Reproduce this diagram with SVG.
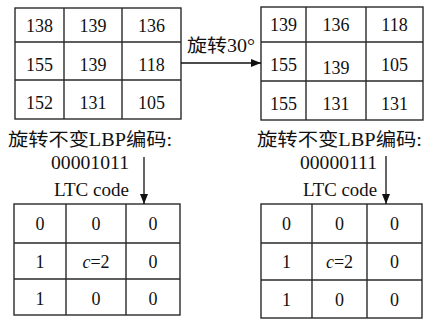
<svg xmlns="http://www.w3.org/2000/svg" width="427" height="320" viewBox="0 0 427 320" font-family="'Liberation Serif','Noto Sans CJK SC',serif">
<defs>
<marker id="ah" markerWidth="10" markerHeight="8" refX="10" refY="4" orient="auto" markerUnits="userSpaceOnUse">
<path d="M0,0 L10,4 L0,8 Z" fill="#111"/>
</marker>
<style>
.g{fill:#fff;stroke:#2a2a2a;stroke-width:1.4}
.l{stroke:#2a2a2a;stroke-width:1.4;fill:none}
text{font-size:18px;fill:#111}
.n{text-anchor:middle}
.c{stroke:#111;stroke-width:1.3;fill:none;marker-end:url(#ah)}
</style>
</defs>
<rect width="427" height="320" fill="#fff"/>

<g id="grid-original">
<rect class="g" x="15" y="8" width="166" height="111"/>
<path class="l" d="M64,8V119M122,8V119M15,42H181M15,80H181"/>
<text class="n" x="39.5" y="32">138</text><text class="n" x="93" y="32">139</text><text class="n" x="151.5" y="32">136</text>
<text class="n" x="39.5" y="71">155</text><text class="n" x="93" y="71">139</text><text class="n" x="151.5" y="71">118</text>
<text class="n" x="39.5" y="109">152</text><text class="n" x="93" y="109">131</text><text class="n" x="151.5" y="109">105</text>
</g>

<g id="grid-rotated">
<rect class="g" x="261" y="7" width="162" height="113"/>
<path class="l" d="M306,7V120M366,7V120M261,42H423M261,81H423"/>
<text class="n" x="283.5" y="31">139</text><text class="n" x="336" y="31">136</text><text class="n" x="394.5" y="31">118</text>
<text class="n" x="283.5" y="71">155</text><text class="n" x="336" y="74">139</text><text class="n" x="394.5" y="71">105</text>
<text class="n" x="283.5" y="110">155</text><text class="n" x="336" y="110">131</text><text class="n" x="394.5" y="110">131</text>
</g>

<g id="label-left">
<text x="8" y="146" textLength="164" lengthAdjust="spacingAndGlyphs">旋转不变LBP编码:</text>
<text x="51" y="169" textLength="78" lengthAdjust="spacingAndGlyphs">00001011</text>
<text x="54" y="196" textLength="75" lengthAdjust="spacingAndGlyphs">LTC code</text>
</g>

<g id="label-right">
<text x="257" y="146" textLength="165" lengthAdjust="spacingAndGlyphs">旋转不变LBP编码:</text>
<text x="300" y="169" textLength="77" lengthAdjust="spacingAndGlyphs">00000111</text>
<text x="303" y="196" textLength="74" lengthAdjust="spacingAndGlyphs">LTC code</text>
</g>

<g id="ltc-left">
<rect class="g" x="14" y="204" width="166" height="111"/>
<path class="l" d="M66,204V315M126,204V315M14,243H180M14,279H180"/>
<text class="n" x="40" y="230">0</text><text class="n" x="96" y="230">0</text><text class="n" x="153" y="230">0</text>
<text class="n" x="40" y="268">1</text><text class="n" x="96" y="268"><tspan font-style="italic">c</tspan>=2</text><text class="n" x="153" y="268">0</text>
<text class="n" x="40" y="305">1</text><text class="n" x="96" y="305">0</text><text class="n" x="153" y="305">0</text>
</g>

<g id="ltc-right">
<rect class="g" x="261" y="204" width="161" height="114"/>
<path class="l" d="M312,204V318M367,204V318M261,243H422M261,280H422"/>
<text class="n" x="286.5" y="230">0</text><text class="n" x="339.5" y="230">0</text><text class="n" x="394.5" y="230">0</text>
<text class="n" x="286.5" y="268">1</text><text class="n" x="339.5" y="268"><tspan font-style="italic">c</tspan>=2</text><text class="n" x="394.5" y="268">0</text>
<text class="n" x="286.5" y="306">1</text><text class="n" x="339.5" y="306">0</text><text class="n" x="394.5" y="306">0</text>
</g>

<g id="connectors">
<line class="c" x1="181" y1="63" x2="261" y2="63"/>
<text x="187" y="52" textLength="68" lengthAdjust="spacingAndGlyphs">旋转30°</text>
<line class="c" x1="144" y1="157" x2="144" y2="204"/>
<line class="c" x1="386" y1="156" x2="386" y2="204"/>
</g>
</svg>
